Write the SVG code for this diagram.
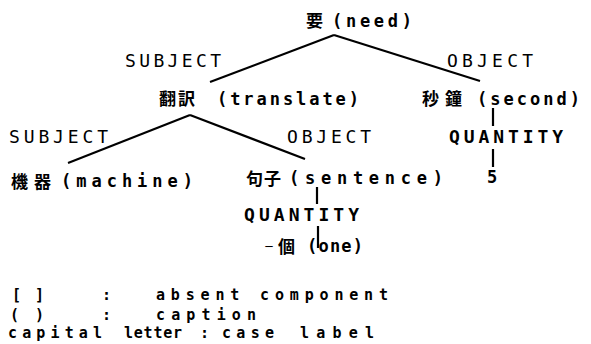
<svg xmlns="http://www.w3.org/2000/svg" width="591" height="344" viewBox="0 0 591 344">
  <style>
    text { fill: #000; }
    .cjk { font-family: "Noto Sans CJK JP", "Noto Sans CJK TC", sans-serif; font-size: 17px; font-weight: 700; }
    .cap { font-family: "DejaVu Sans Mono", "Liberation Mono", monospace; font-size: 17px; font-weight: 700; }
    .case { font-family: "DejaVu Sans Mono", "Liberation Mono", monospace; font-size: 18px; font-weight: 400; }
    .qty { font-family: "DejaVu Sans Mono", "Liberation Mono", monospace; font-size: 18px; font-weight: 700; }
    .leg { font-family: "DejaVu Sans Mono", "Liberation Mono", monospace; font-size: 15px; font-weight: 700; }
    .edge { stroke: #000; stroke-width: 2.2; fill: none; stroke-linecap: butt; }
  </style>

  <rect width="591" height="344" fill="#fff"/>

  <!-- connectors and their case labels -->
  <g id="connectors">
    <line class="edge" x1="334" y1="35" x2="210" y2="82"/>
    <line class="edge" x1="334" y1="35" x2="480" y2="81"/>
    <line class="edge" x1="190" y1="115" x2="68" y2="163"/>
    <line class="edge" x1="190" y1="115" x2="305" y2="159"/>
    <line class="edge" x1="493" y1="108" x2="493" y2="126"/>
    <line class="edge" x1="493" y1="149" x2="493" y2="167"/>
    <line class="edge" x1="317" y1="187" x2="317" y2="204"/>
    <line class="edge" x1="318" y1="226" x2="318" y2="248"/>

    <text class="case" x="125" y="67" textLength="96" lengthAdjust="spacing">SUBJECT</text>
    <text class="case" x="447" y="67" textLength="86" lengthAdjust="spacing">OBJECT</text>
    <text class="case" x="9" y="143" textLength="99" lengthAdjust="spacing">SUBJECT</text>
    <text class="case" x="287" y="143" textLength="84" lengthAdjust="spacing">OBJECT</text>
    <text class="qty" x="449" y="143" textLength="114" lengthAdjust="spacing">QUANTITY</text>
    <text class="qty" x="244" y="221" textLength="115" lengthAdjust="spacing">QUANTITY</text>
  </g>

  <g id="n-need">
    <text class="cjk" x="306" y="27">要</text>
    <text class="cap" x="332" y="27" textLength="80" lengthAdjust="spacing">(need)</text>
  </g>

  <g id="n-translate">
    <text class="cjk" x="159" y="105" textLength="36" lengthAdjust="spacing">翻訳</text>
    <text class="cap" x="217" y="105" textLength="142" lengthAdjust="spacing">(translate)</text>
  </g>

  <g id="n-second">
    <text class="cjk" x="422" y="105" textLength="40" lengthAdjust="spacing">秒鐘</text>
    <text class="cap" x="477" y="105" textLength="103" lengthAdjust="spacing">(second)</text>
  </g>

  <g id="n-machine">
    <text class="cjk" x="11" y="188" textLength="40" lengthAdjust="spacing">機器</text>
    <text class="cap" x="61" y="187" textLength="132" lengthAdjust="spacing">(machine)</text>
  </g>

  <g id="n-sentence">
    <text class="cjk" x="246" y="185" textLength="35" lengthAdjust="spacing">句子</text>
    <text class="cap" x="289" y="184" textLength="154" lengthAdjust="spacing">(sentence)</text>
  </g>

  <g id="n-five">
    <text class="cap" x="487" y="183">5</text>
  </g>

  <g id="n-one">
    <!-- small 一 followed by 個 in one run -->
    <text class="cjk" x="265" y="250"><tspan font-size="8">一</tspan><tspan dx="5" dy="3">個</tspan></text>
    <text class="cap" x="307" y="252" textLength="56" lengthAdjust="spacing">(one)</text>
  </g>

  <!-- legend -->
  <g id="legend">
    <text class="leg" x="12" y="300" textLength="32" lengthAdjust="spacing">[ ]</text>
    <text class="leg" x="102" y="300">:</text>
    <text class="leg" x="156" y="300" textLength="232" lengthAdjust="spacing">absent component</text>

    <text class="leg" x="10" y="320" textLength="34" lengthAdjust="spacing">( )</text>
    <text class="leg" x="102" y="320">:</text>
    <text class="leg" x="156" y="320" textLength="100" lengthAdjust="spacing">caption</text>

    <text class="leg" x="8" y="338" textLength="94" lengthAdjust="spacing">capital</text>
    <text class="leg" x="124" y="338" textLength="58" lengthAdjust="spacing">letter</text>
    <text class="leg" x="200" y="338">:</text>
    <text class="leg" x="222" y="338" textLength="52" lengthAdjust="spacing">case</text>
    <text class="leg" x="300" y="338" textLength="74" lengthAdjust="spacing">label</text>
  </g>
</svg>
